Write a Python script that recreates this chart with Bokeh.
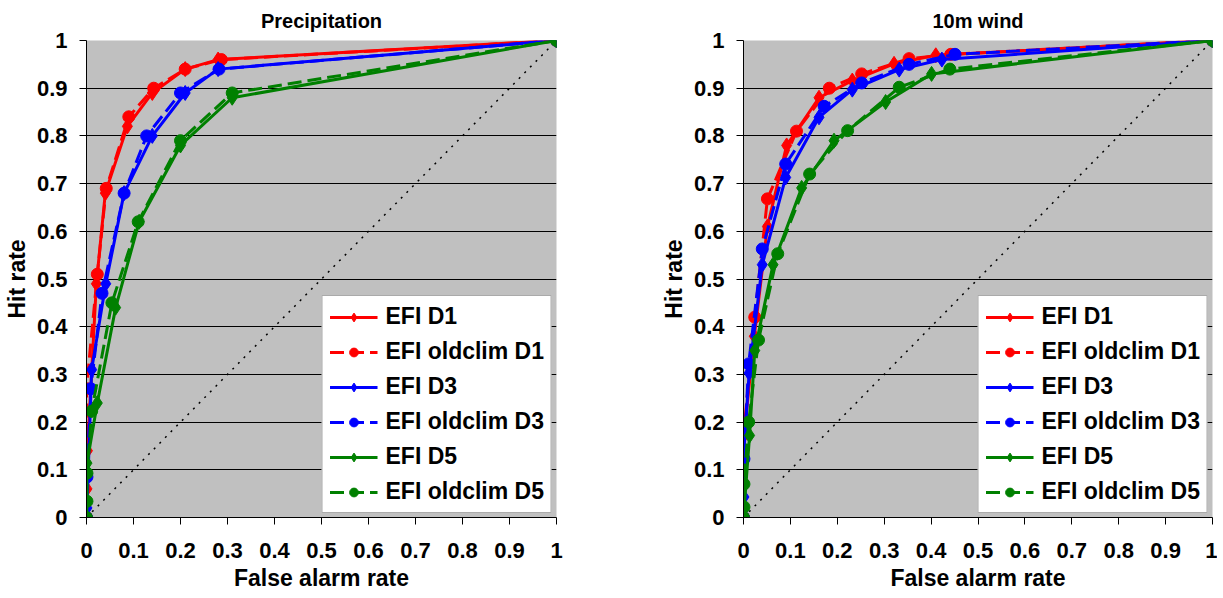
from bokeh.plotting import figure
from bokeh.layouts import row
from bokeh.models import Range1d, FixedTicker, NumeralTickFormatter, Legend, LegendItem
from bokeh.embed import file_html
from bokeh.resources import INLINE

# ---------------- data ----------------
ticks = [0, 0.1, 0.2, 0.3, 0.4, 0.5, 0.6, 0.7, 0.8, 0.9, 1]
labels = ["EFI D1", "EFI oldclim D1", "EFI D3", "EFI oldclim D3", "EFI D5", "EFI oldclim D5"]
titles = ["Precipitation", "10m wind"]

# Precipitation
p_d1_x = [0, 0.001, 0.002, 0.021, 0.04, 0.087, 0.14, 0.21, 0.28, 1]
p_d1_y = [0, 0.06, 0.14, 0.49, 0.68, 0.82, 0.89, 0.94, 0.96, 1]
p_od1_x = [0, 0.0, 0.023, 0.042, 0.09, 0.143, 0.21, 0.287, 1]
p_od1_y = [0, 0.27, 0.51, 0.69, 0.84, 0.90, 0.94, 0.96, 1]
p_d3_x = [0, 0.001, 0.011, 0.041, 0.08, 0.14, 0.21, 0.28, 1]
p_d3_y = [0, 0.02, 0.31, 0.49, 0.68, 0.80, 0.89, 0.94, 1]
p_od3_x = [0, 0.001, 0.009, 0.033, 0.08, 0.128, 0.2, 0.282, 1]
p_od3_y = [0, 0.085, 0.27, 0.47, 0.68, 0.80, 0.89, 0.94, 1]
p_d5_x = [0, 0.001, 0.023, 0.062, 0.112, 0.2, 0.31, 1]
p_d5_y = [0, 0.114, 0.24, 0.44, 0.62, 0.78, 0.88, 1]
p_od5_x = [0, 0.001, 0.001, 0.011, 0.054, 0.11, 0.2, 0.31, 1]
p_od5_y = [0, 0.034, 0.093, 0.223, 0.45, 0.62, 0.79, 0.89, 1]

# 10m wind
w_d1_x = [0, 0.001, 0.023, 0.051, 0.092, 0.161, 0.232, 0.321, 0.41, 1]
w_d1_y = [0, 0.172, 0.38, 0.61, 0.78, 0.88, 0.916, 0.951, 0.969, 1]
w_od1_x = [0, 0.001, 0.024, 0.051, 0.113, 0.183, 0.252, 0.353, 0.442, 1]
w_od1_y = [0, 0.182, 0.42, 0.668, 0.81, 0.90, 0.93, 0.962, 0.971, 1]
w_d3_x = [0, 0.001, 0.001, 0.012, 0.04, 0.09, 0.161, 0.232, 0.332, 0.423, 1]
w_d3_y = [0, 0.043, 0.14, 0.303, 0.53, 0.713, 0.839, 0.897, 0.939, 0.96, 1]
w_od3_x = [0, 0.001, 0.011, 0.04, 0.09, 0.172, 0.252, 0.353, 0.451, 1]
w_od3_y = [0, 0.123, 0.322, 0.563, 0.741, 0.862, 0.911, 0.95, 0.971, 1]
w_d5_x = [0, 0.013, 0.024, 0.063, 0.124, 0.193, 0.303, 0.401, 1]
w_d5_y = [0, 0.172, 0.35, 0.53, 0.691, 0.79, 0.871, 0.93, 1]
w_od5_x = [0, 0.001, 0.001, 0.011, 0.032, 0.073, 0.141, 0.222, 0.332, 0.44, 1]
w_od5_y = [0, 0.022, 0.07, 0.2, 0.372, 0.553, 0.72, 0.811, 0.902, 0.94, 1]

colors = ["#FF0000", "#FF0000", "#0000FF", "#0000FF", "#008000", "#008000"]
markers = ["diamond", "circle", "diamond", "circle", "diamond", "circle"]
dashes = ["solid", "14 6", "solid", "14 6", "solid", "14 6"]

FONT = "Liberation Sans"


def make_panel(title, series, fw, bl, br):
    p = figure(frame_width=fw, frame_height=477, output_backend="svg", toolbar_location=None,
               x_range=Range1d(0, 1), y_range=Range1d(0, 1),
               min_border_left=bl, min_border_right=br, min_border_top=40, min_border_bottom=78)
    p.title.text = title
    p.title.align = "center"
    p.title.vertical_align = "top"
    p.title.text_font = FONT
    p.title.text_font_size = "20px"
    p.title.text_font_style = "bold"
    p.title.text_color = "black"
    p.title.standoff = 14
    p.background_fill_color = "#C0C0C0"
    p.border_fill_color = "white"
    p.outline_line_color = None

    p.xgrid.visible = False
    p.ygrid.ticker = FixedTicker(ticks=ticks)
    p.ygrid.grid_line_color = "black"
    p.ygrid.grid_line_width = 1

    for ax in (p.xaxis[0], p.yaxis[0]):
        ax.ticker = FixedTicker(ticks=ticks)
        ax.formatter = NumeralTickFormatter(format="0.[0]")
        ax.major_label_text_font = FONT
        ax.major_label_text_font_size = "22px"
        ax.major_label_text_font_style = "bold"
        ax.major_label_text_color = "black"
        ax.axis_label_text_font = FONT
        ax.axis_label_text_font_size = "23px"
        ax.axis_label_text_font_style = "bold"
        ax.axis_label_text_color = "black"
        ax.axis_line_color = "black"
        ax.major_tick_line_color = "black"
        ax.major_tick_in = 0
        ax.major_tick_out = 7
        ax.minor_tick_line_color = None
    p.xaxis.major_label_standoff = 18
    p.yaxis.major_label_standoff = 12
    p.xaxis.axis_label = "False alarm rate"
    p.yaxis.axis_label = "Hit rate"
    p.xaxis.axis_label_standoff = 4
    p.yaxis.axis_label_standoff = 4

    # diagonal no-skill line
    p.line(ticks[::10], ticks[::10], line_color="black", line_width=1.5, line_dash="2 6")

    items = []
    for (xs, ys), lab, c, m, d in zip(series, labels, colors, markers, dashes):
        lr = p.line(xs, ys, line_color=c, line_width=3, line_dash=d)
        sr = p.scatter(xs, ys, marker=m, size=15 if m == "diamond" else 12,
                       fill_color=c, line_color=c)
        items.append(LegendItem(label=lab, renderers=[lr, sr]))

    leg = Legend(items=items, location="bottom_right")
    leg.label_text_font = FONT
    leg.label_text_font_size = "23px"
    leg.label_text_font_style = "bold"
    leg.label_text_color = "black"
    leg.glyph_width = 48
    leg.glyph_height = 22
    leg.label_height = 22
    leg.label_standoff = 8
    leg.spacing = 8
    leg.padding = 7
    leg.margin = 4
    leg.border_line_color = "#555555"
    leg.border_line_width = 1
    leg.background_fill_color = "white"
    leg.background_fill_alpha = 1
    p.add_layout(leg, "center")
    return p


p1 = make_panel(titles[0],
                [(p_d1_x, p_d1_y), (p_od1_x, p_od1_y), (p_d3_x, p_d3_y),
                 (p_od3_x, p_od3_y), (p_d5_x, p_d5_y), (p_od5_x, p_od5_y)],
                470, 84, 54)
p2 = make_panel(titles[1],
                [(w_d1_x, w_d1_y), (w_od1_x, w_od1_y), (w_d3_x, w_d3_y),
                 (w_od3_x, w_od3_y), (w_d5_x, w_d5_y), (w_od5_x, w_od5_y)],
                469, 133, 5)

layout = row(p1, p2)
open("out.html", "w").write(file_html(layout, INLINE))
